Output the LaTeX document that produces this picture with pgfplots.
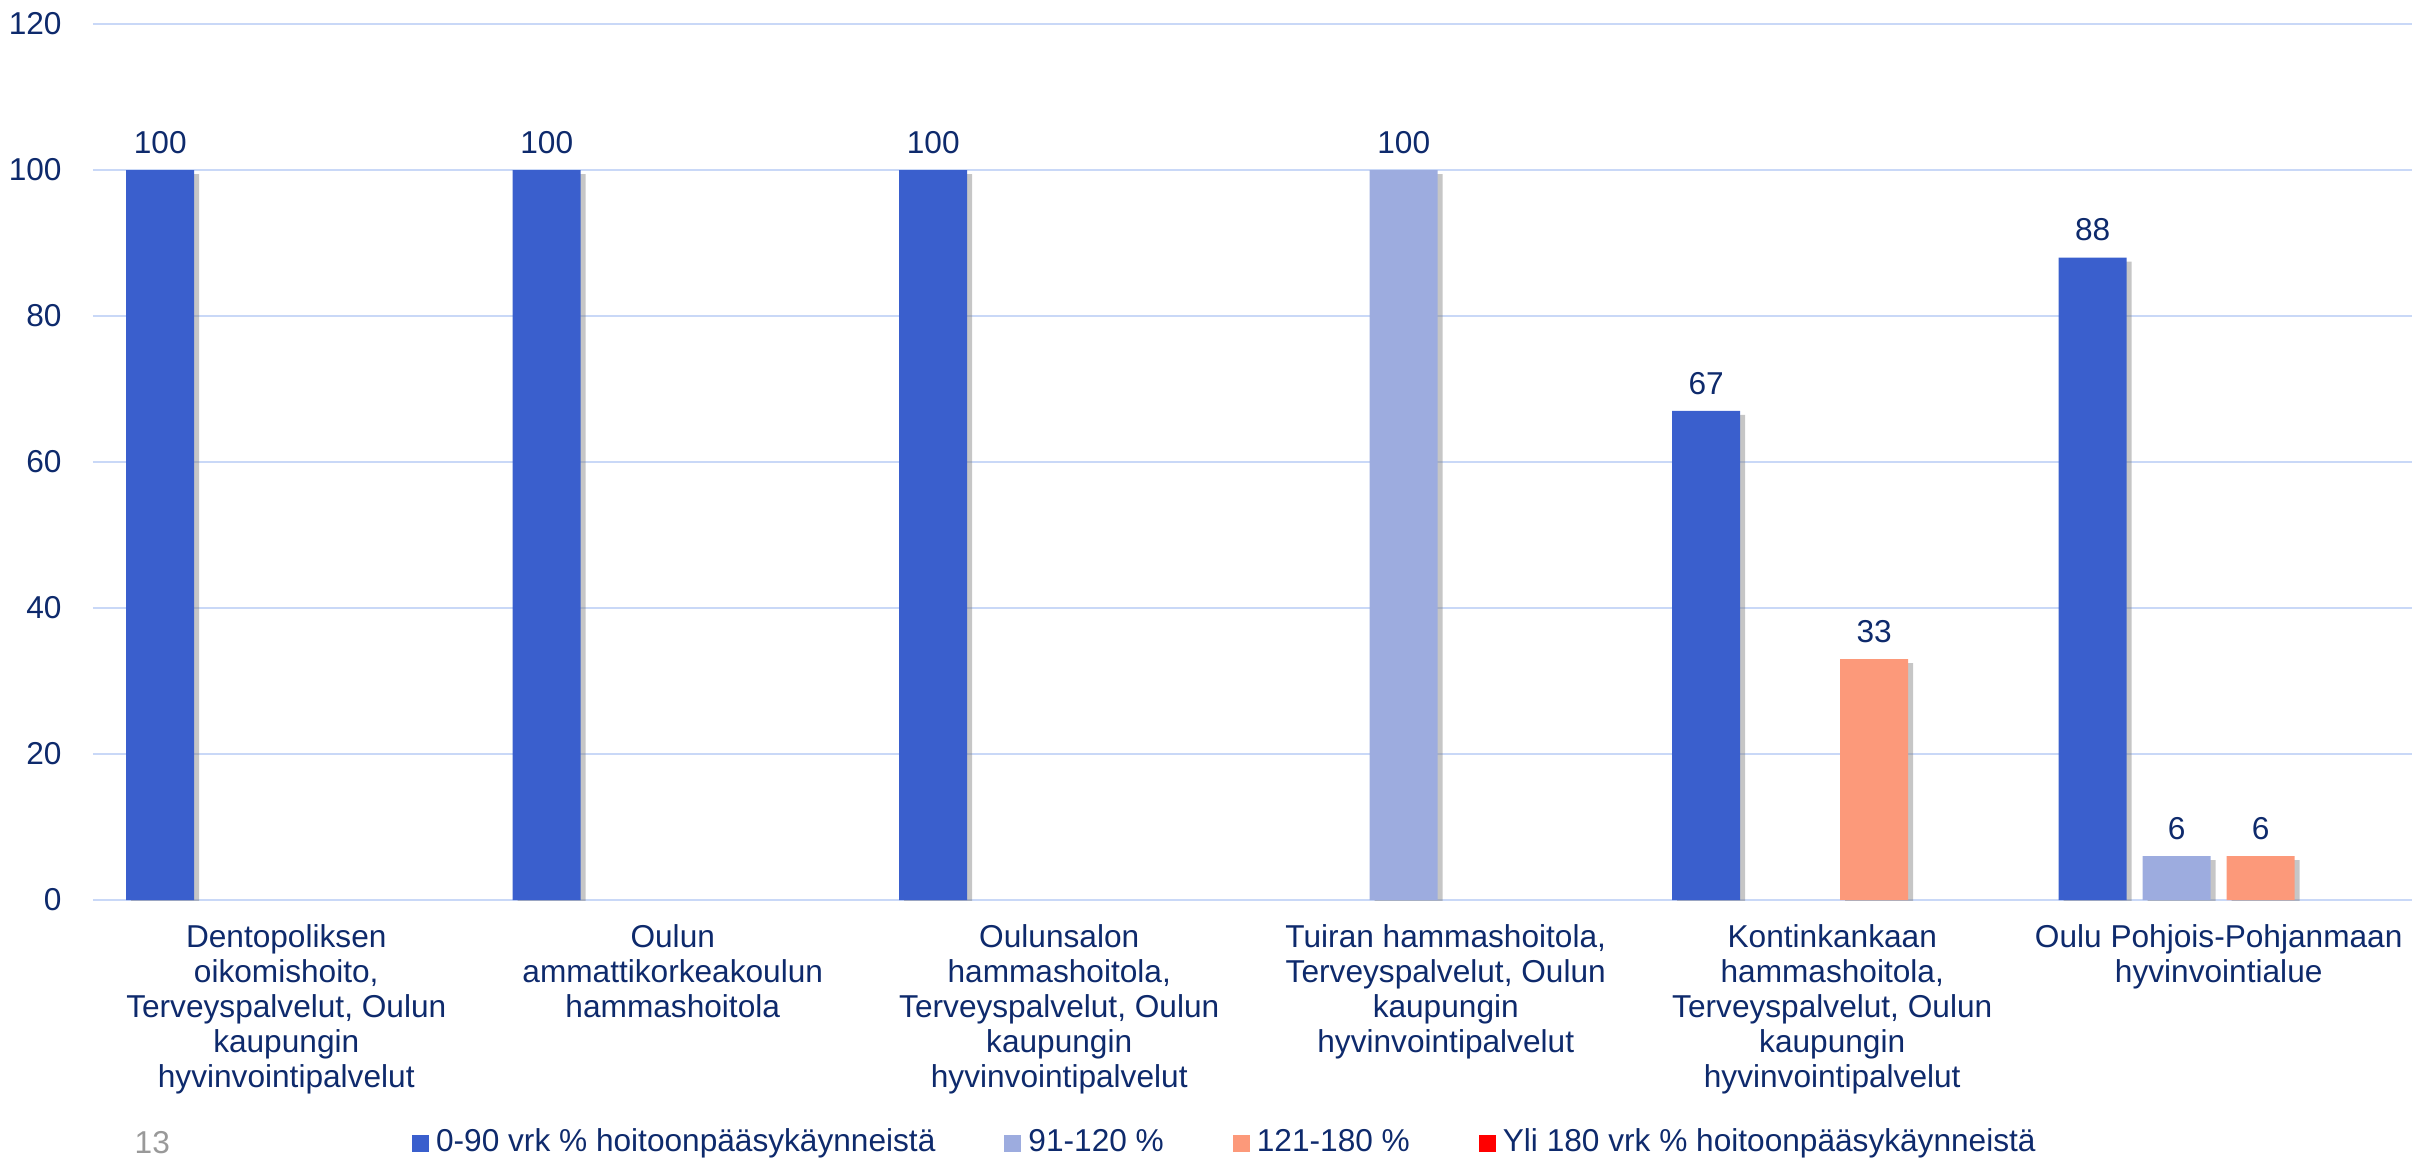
\documentclass[border=0pt]{standalone}
\usepackage{fontspec}
\setmainfont{Liberation Sans}
\usepackage{pgfplots}
\pgfplotsset{compat=1.18}
\usetikzlibrary{shadows}

\definecolor{navy}{HTML}{0E2A6C}
\definecolor{gridblue}{HTML}{C9D8F7}
\definecolor{c1}{HTML}{3A5FCD}
\definecolor{c2}{HTML}{9DACDF}
\definecolor{c3}{HTML}{FC997A}
\definecolor{c4}{HTML}{FF0000}

\newcommand{\lbl}{\fontsize{9}{10}\selectfont}

\begin{document}
\begin{tikzpicture}[x=1cm,y=1cm]
\path[use as bounding box] (0,0) rectangle (24.12,11.59);
\begin{axis}[
    at={(0.93cm,2.59cm)}, anchor=south west,
    scale only axis,
    width=23.19cm, height=8.76cm,
    xmin=-0.5, xmax=5.5,
    ymin=0, ymax=120,
    ytick={0,20,...,120},
    xtick={0,...,5},
    xticklabels={
        {Dentopoliksen\\oikomishoito,\\Terveyspalvelut, Oulun\\kaupungin\\hyvinvointipalvelut},
        {Oulun\\ammattikorkeakoulun\\hammashoitola},
        {Oulunsalon\\hammashoitola,\\Terveyspalvelut, Oulun\\kaupungin\\hyvinvointipalvelut},
        {Tuiran hammashoitola,\\Terveyspalvelut, Oulun\\kaupungin\\hyvinvointipalvelut},
        {Kontinkankaan\\hammashoitola,\\Terveyspalvelut, Oulun\\kaupungin\\hyvinvointipalvelut},
        {Oulu Pohjois-Pohjanmaan\\hyvinvointialue}},
    ybar, bar width=0.68cm,
    axis line style={draw=none},
    major tick length=0pt,
    ymajorgrids,
    grid style={color=gridblue, line width=0.6pt},
    /pgf/number format/assume math mode=true,
    tick label style={font=\lbl, text=navy},
    xticklabel style={align=center, yshift=-0.12cm},
    yticklabel style={xshift=-0.19cm},
    nodes near coords style={font=\lbl, text=navy, yshift=0.04cm},
    legend image code/.code={\fill[#1] (0cm,-0.085cm) rectangle (0.17cm,0.085cm);},
    legend style={
        at={(0.1376,-0.2774)}, anchor=west,
        draw=none, fill=none, inner sep=0pt, outer sep=0pt,
        font=\lbl, text=navy,
        legend columns=-1,
        nodes={inner sep=0pt},
        /tikz/every odd column/.append style={column sep=0.07cm},
        /tikz/every even column/.append style={column sep=0.69cm}},
]
% 0-90 vrk
\addplot[fill=c1, draw=none, bar shift=-1.26cm, forget plot, nodes near coords,
    drop shadow={shadow xshift=0.05cm, shadow yshift=-0.04cm, opacity=0.45}]
    coordinates {(0,100) (1,100) (2,100) (4,67) (5,88)};
% 91-120
\addplot[fill=c2, draw=none, bar shift=-0.42cm, forget plot, nodes near coords,
    drop shadow={shadow xshift=0.05cm, shadow yshift=-0.04cm, opacity=0.45}]
    coordinates {(3,100) (5,6)};
% 121-180
\addplot[fill=c3, draw=none, bar shift=0.42cm, forget plot, nodes near coords,
    drop shadow={shadow xshift=0.05cm, shadow yshift=-0.04cm, opacity=0.45}]
    coordinates {(4,33) (5,6)};

\addlegendimage{fill=c1, draw=none}
\addlegendentry{0-90 vrk \% hoitoonpääsykäynneistä}
\addlegendimage{fill=c2, draw=none}
\addlegendentry{91-120 \%}
\addlegendimage{fill=c3, draw=none}
\addlegendentry{121-180 \%}
\addlegendimage{fill=c4, draw=none}
\addlegendentry{Yli 180 vrk \% hoitoonpääsykäynneistä}
\end{axis}
\node[anchor=west, text=gray!80, font=\lbl, inner sep=0pt] at (1.34,0.16) {13};
\end{tikzpicture}
\end{document}
